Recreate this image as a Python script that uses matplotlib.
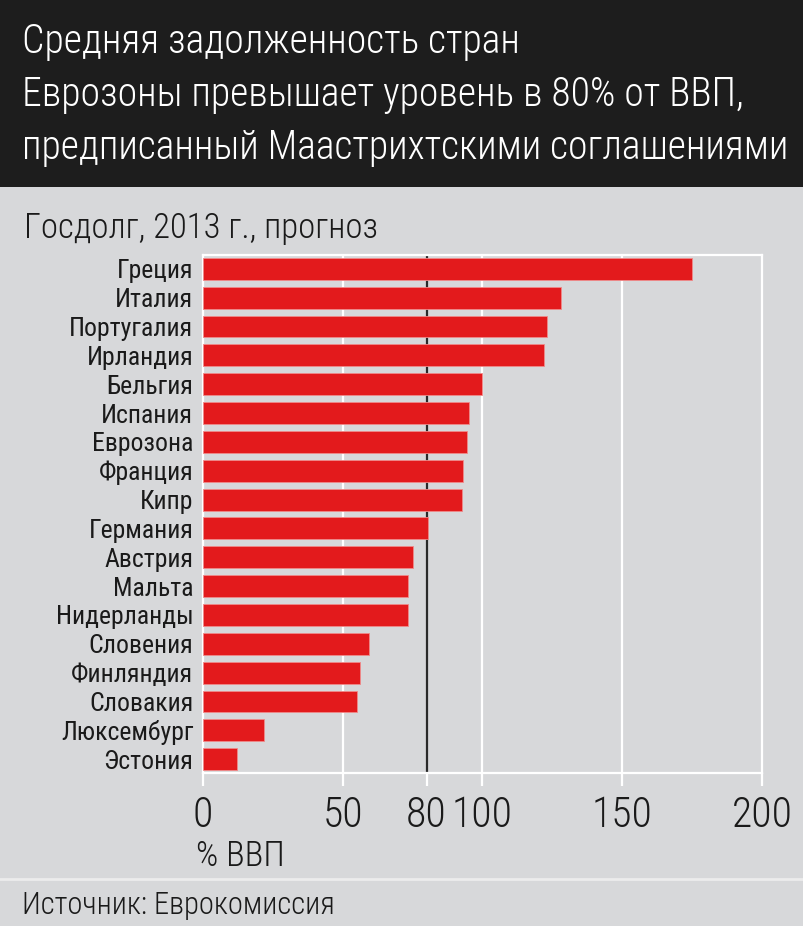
import matplotlib
matplotlib.use("Agg")
import matplotlib.pyplot as plt
from matplotlib.patches import Rectangle

countries = ["Греция", "Италия", "Португалия", "Ирландия", "Бельгия", "Испания",
             "Еврозона", "Франция", "Кипр", "Германия", "Австрия", "Мальта",
             "Нидерланды", "Словения", "Финляндия", "Словакия", "Люксембург", "Эстония"]
debt = [175, 128, 123, 122, 100, 95, 94.5, 93, 92.5, 80.5, 75, 73.5, 73.5, 59.5, 56, 55, 22, 12]
xticks = [0, 50, 80, 100, 150, 200]
threshold = 80

title_lines = ["Средняя задолженность стран",
               "Еврозоны превышает уровень в 80% от ВВП,",
               "предписанный Маастрихтскими соглашениями"]
subtitle = "Госдолг, 2013 г., прогноз"
xlabel = "% ВВП"
source = "Источник: Еврокомиссия"

FONT = ["Roboto Condensed", "DejaVu Sans"]
plt.rcParams['font.family'] = FONT

W, H = 804, 926
BG = "#d7d8da"
RED = "#e31a1c"
TXT = "#1a1a1a"
fig = plt.figure(figsize=(W / 100, H / 100), dpi=100, facecolor=BG)

def fy(py):
    return 1 - py / H

def fx(px):
    return px / W

# header band
fig.patches.append(Rectangle((0, fy(187)), 1, 187 / H, transform=fig.transFigure,
                             facecolor="#1d1d1d", edgecolor="none", zorder=0))
# footer separator
fig.lines.append(plt.Line2D([0, 1], [fy(879), fy(879)], transform=fig.transFigure,
                            color="#ececec", lw=2))

for i, line in enumerate(title_lines):
    fig.text(fx(22), fy(42 + 53 * i), line, color="white", fontsize=28.5, weight=300,
             va="center", ha="left")
fig.text(fx(24), fy(228), subtitle, color=TXT, fontsize=25, weight=300, va="center", ha="left")
fig.text(fx(196), fy(856), xlabel, color=TXT, fontsize=25, weight=300, va="center", ha="left")
fig.text(fx(22), fy(905), source, color=TXT, fontsize=22, weight=300, va="center", ha="left")

ax = fig.add_axes([fx(203), fy(773), fx(762) - fx(203), (773 - 255) / H])
ax.set_facecolor(BG)
y = list(range(len(countries)))
ax.barh(y, debt, height=0.76, color=RED, edgecolor="#f08a8a", linewidth=0.6, zorder=3)
ax.set_xlim(0, 200)
ax.set_ylim(len(countries) - 0.52, -0.48)

for t in [50, 100, 150]:
    ax.axvline(t, color="white", lw=1.6, zorder=1)
ax.axvline(threshold, color="#2a2a2a", lw=1.6, zorder=2)

for side in ["top", "right", "bottom", "left"]:
    ax.spines[side].set_color("white")
    ax.spines[side].set_linewidth(1.6)

ax.set_yticks(y)
ax.set_yticklabels(countries, fontsize=18.5, color=TXT)
ax.tick_params(axis="y", length=0, pad=7)

ax.set_xticks(xticks)
ax.set_xticklabels([str(v) for v in xticks], fontsize=30, weight=300, color=TXT)
ax.tick_params(axis="x", length=9, width=1.6, color="white", pad=7, direction="out")
for v, tl in zip(xticks, ax.get_xticklines()[0::2]):
    if v == threshold:
        tl.set_color("#2a2a2a")

fig.savefig("out.png", dpi=100, facecolor=BG)
